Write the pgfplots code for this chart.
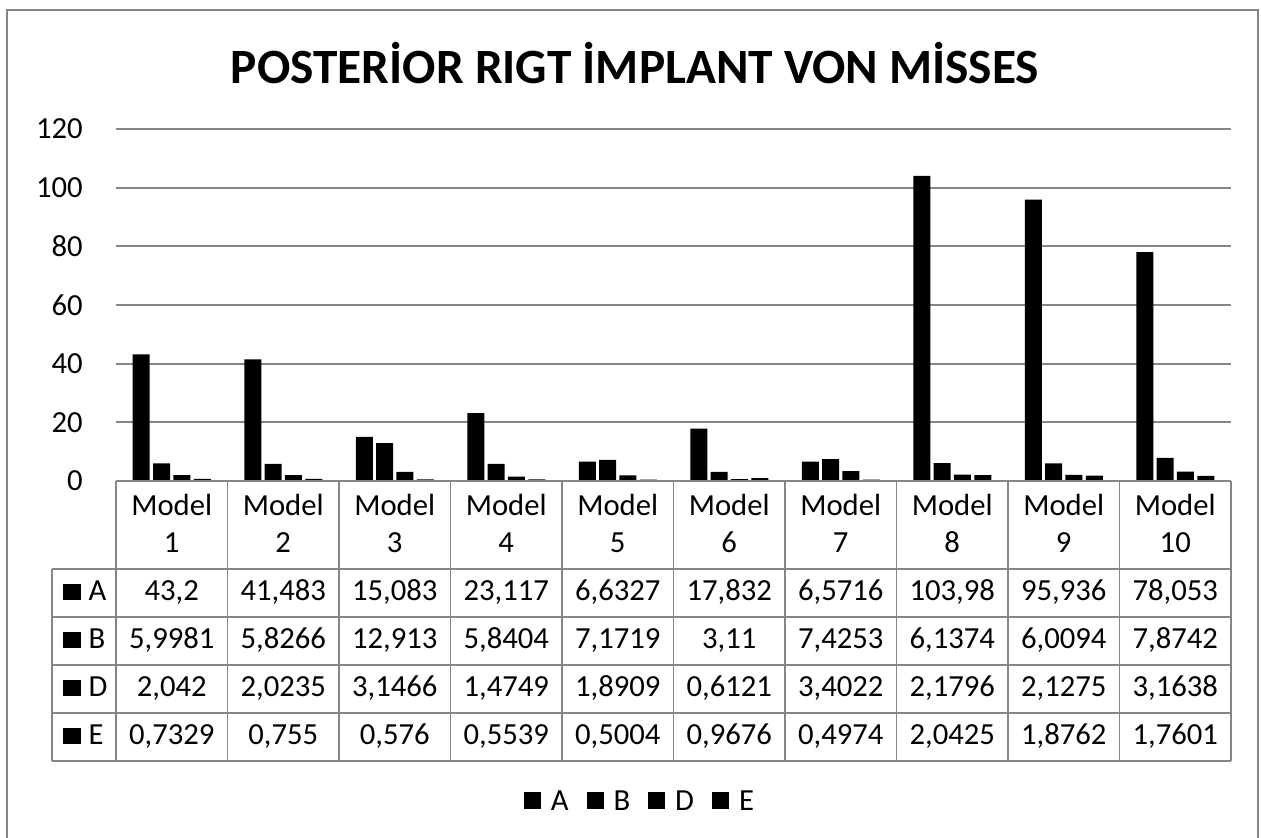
\documentclass[border=0pt]{standalone}
\usepackage{pgfplots}
\pgfplotsset{compat=1.18}
\usepackage{fontspec}
\setmainfont{Carlito}
\definecolor{gridgray}{RGB}{134,134,134}
\newcommand\tf{\fontsize{23pt}{27pt}\selectfont}
\newcommand\key[1]{\rule{13pt}{12pt}\hspace{6pt}#1}
\begin{document}
\begin{tikzpicture}[x=0.75pt,y=-0.75pt]
\path[use as bounding box] (0,0) rectangle (1261,838);
\draw[gridgray, line width=1pt] (7,10) rectangle (1258,850);
\node[font=\fontsize{37pt}{40pt}\selectfont\bfseries, anchor=base] at (635,84) {POSTERİOR RIGT İMPLANT VON MİSSES};
\begin{scope}[x=1pt,y=1pt]
\begin{axis}[
  at={(87pt,-360.75pt)}, anchor=south west,
  scale only axis, width=836.25pt, height=264pt,
  xmin=0.5, xmax=10.5, ymin=0, ymax=120,
  ytick={0,20,...,120}, xtick=\empty,
  ymajorgrids, grid style={gridgray, line width=1.3pt},
  axis line style={draw=none}, major tick length=0pt,
  yticklabel style={font=\tf, inner sep=0pt, xshift=-24.75pt},
  /pgf/number format/assume math mode=true,
  ybar=2.5pt, bar width=12.75pt,
  every axis plot post/.append style={fill=black, draw=none,
     legend image code/.code={\fill[black] (0pt,-5.5pt) rectangle (12.75pt,7.25pt);}},
  legend style={at={(0.469,-0.912)}, anchor=center, draw=none, fill=none,
     legend columns=4, font=\tf, nodes={font=\tf, inner sep=0pt},
     /tikz/every odd column/.append style={column sep=7.5pt},
     /tikz/every even column/.append style={column sep=13.5pt}},
]
\addplot coordinates {(1,43.2) (2,41.483) (3,15.083) (4,23.117) (5,6.6327) (6,17.832) (7,6.5716) (8,103.98) (9,95.936) (10,78.053)};
\addplot coordinates {(1,5.9981) (2,5.8266) (3,12.913) (4,5.8404) (5,7.1719) (6,3.11) (7,7.4253) (8,6.1374) (9,6.0094) (10,7.8742)};
\addplot coordinates {(1,2.042) (2,2.0235) (3,3.1466) (4,1.4749) (5,1.8909) (6,0.6121) (7,3.4022) (8,2.1796) (9,2.1275) (10,3.1638)};
\addplot coordinates {(1,0.7329) (2,0.755) (3,0.576) (4,0.5539) (5,0.5004) (6,0.9676) (7,0.4974) (8,2.0425) (9,1.8762) (10,1.7601)};
\legend{A,B,D,E}
\end{axis}
\end{scope}
% data table
\begin{scope}[gridgray, line width=1.3pt]
\draw (116,481) -- (1231,481);
\foreach \k in {0,...,10} \draw ({116+111.5*\k},481) -- ({116+111.5*\k},761);
\foreach \yy in {569,617,665,713,761} \draw (52,\yy) -- (1231,\yy);
\draw (52,569) -- (52,761);
\end{scope}
\foreach \k in {1,...,10} {
  \node[font=\tf, anchor=base] at ({116+111.5*(\k-0.5)},515) {Model};
  \node[font=\tf, anchor=base] at ({116+111.5*(\k-0.5)},552) {\k};
}
\foreach \v [count=\k] in {{43,2},{41,483},{15,083},{23,117},{6,6327},{17,832},{6,5716},{103,98},{95,936},{78,053}}
  \node[font=\tf, anchor=base] at ({116+111.5*(\k-0.5)},600) {\v};
\foreach \v [count=\k] in {{5,9981},{5,8266},{12,913},{5,8404},{7,1719},{3,11},{7,4253},{6,1374},{6,0094},{7,8742}}
  \node[font=\tf, anchor=base] at ({116+111.5*(\k-0.5)},648) {\v};
\foreach \v [count=\k] in {{2,042},{2,0235},{3,1466},{1,4749},{1,8909},{0,6121},{3,4022},{2,1796},{2,1275},{3,1638}}
  \node[font=\tf, anchor=base] at ({116+111.5*(\k-0.5)},696) {\v};
\foreach \v [count=\k] in {{0,7329},{0,755},{0,576},{0,5539},{0,5004},{0,9676},{0,4974},{2,0425},{1,8762},{1,7601}}
  \node[font=\tf, anchor=base] at ({116+111.5*(\k-0.5)},744) {\v};
\node[font=\tf, anchor=base west, inner sep=0pt] at (63,600) {\key{A}};
\node[font=\tf, anchor=base west, inner sep=0pt] at (63,648) {\key{B}};
\node[font=\tf, anchor=base west, inner sep=0pt] at (63,696) {\key{D}};
\node[font=\tf, anchor=base west, inner sep=0pt] at (63,744) {\key{E}};
\end{tikzpicture}
\end{document}
